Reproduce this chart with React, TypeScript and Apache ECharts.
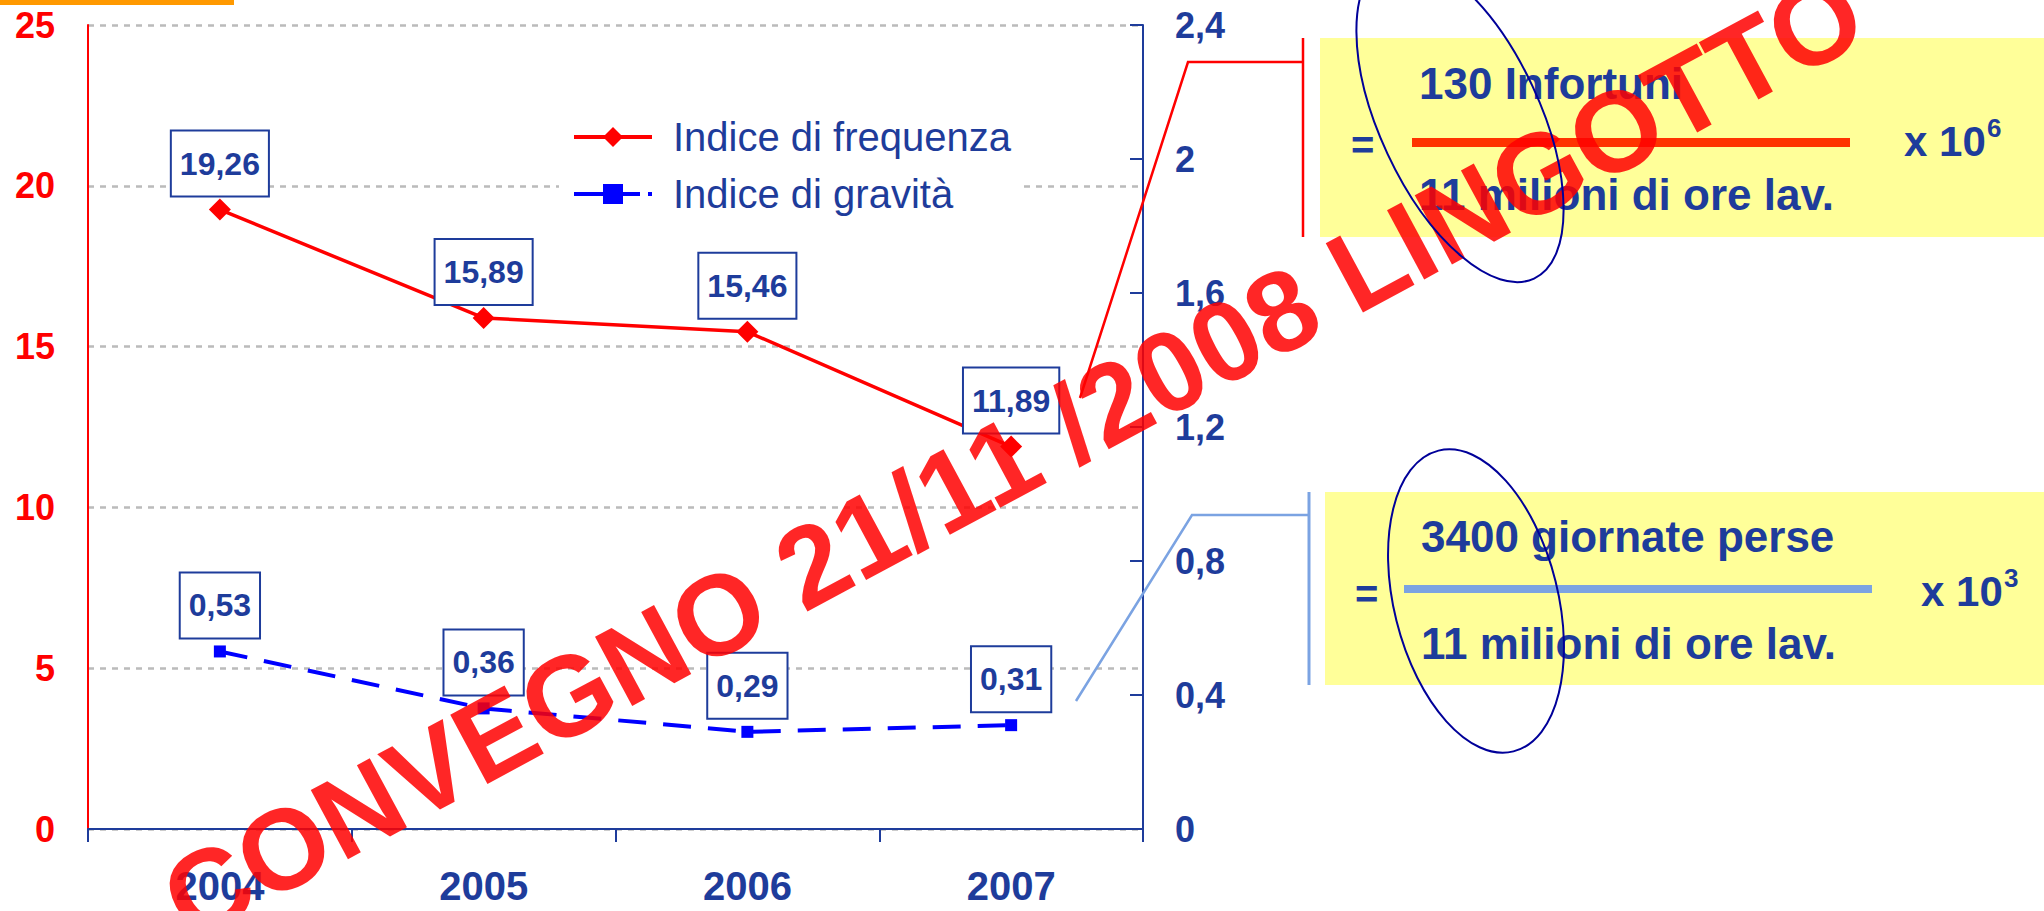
import React, { useEffect, useRef } from "react";
import * as echarts from "echarts";

const years = ["2004", "2005", "2006", "2007"];
const freqName = "Indice di frequenza";
const gravName = "Indice di gravità";
const freqValues = [19.26, 15.89, 15.46, 11.89];
const gravValues = [0.53, 0.36, 0.29, 0.31];
const leftTicks = { min: 0, max: 25, interval: 5 };
const rightTicks = { min: 0, max: 2.4, interval: 0.4 };
const formula1 = { num: "130 Infortuni", den: "11 milioni di ore lav.", exp: "6" };
const formula2 = { num: "3400 giornate perse", den: "11 milioni di ore lav.", exp: "3" };
const watermark = "CONVEGNO 21/11 /2008 LINGOTTO";

const BLUE = "#1E3C9B";
const FONT = "'Liberation Sans', Arial, sans-serif";

const fmt = (v: number) => v.toFixed(2).replace(".", ",");

export default function App() {
  const ref = useRef<HTMLDivElement>(null);
  useEffect(() => {
    if (!ref.current) return;
    const chart = echarts.init(ref.current, undefined, { renderer: "svg" });
    const label = (dist: number) => ({
      show: true,
      position: "top",
      distance: dist,
      formatter: (p: any) => fmt(p.value),
      color: BLUE,
      fontSize: 32,
      fontWeight: "bold",
      fontFamily: FONT,
      lineHeight: 32,
      backgroundColor: "#ffffff",
      borderColor: BLUE,
      borderWidth: 2,
      padding: [16, 8, 16, 8],
    });
    const txt = (text: string, x: number, y: number, size: number, extra: any = {}) => ({
      type: "text",
      x,
      y,
      z: 50,
      style: {
        text,
        fill: BLUE,
        fontSize: size,
        fontWeight: "bold",
        fontFamily: FONT,
        align: "left",
        verticalAlign: "middle",
        ...extra,
      },
    });
    chart.setOption({
      animation: false,
      backgroundColor: "#ffffff",
      grid: { left: 88, right: 901, top: 25, bottom: 82, containLabel: false },
      legend: {
        orient: "vertical",
        left: 559,
        top: 107,
        padding: [10, 9, 10, 13],
        itemGap: 17,
        itemWidth: 78,
        itemHeight: 25,
        backgroundColor: "#ffffff",
        data: [
          { name: freqName, lineStyle: { width: 4 } },
          { name: gravName, lineStyle: { width: 4, type: [29, 8] } },
        ],
        textStyle: {
          color: BLUE,
          fontSize: 40,
          fontFamily: FONT,
          lineHeight: 40,
          padding: [0, 0, 0, 16],
        },
      },
      xAxis: {
        type: "category",
        data: years,
        boundaryGap: true,
        axisLine: { lineStyle: { color: BLUE, width: 2 } },
        axisTick: { show: true, length: 13, lineStyle: { color: BLUE, width: 2 } },
        axisLabel: {
          color: BLUE,
          fontSize: 40,
          fontWeight: "bold",
          fontFamily: FONT,
          lineHeight: 32,
          margin: 41,
        },
        splitLine: { show: false },
      },
      yAxis: [
        {
          type: "value",
          position: "left",
          min: leftTicks.min,
          max: leftTicks.max,
          interval: leftTicks.interval,
          axisLine: { show: true, lineStyle: { color: "#FF0000", width: 2 } },
          axisTick: { show: false },
          axisLabel: { color: "#FF0000", fontSize: 36, fontWeight: "bold", fontFamily: FONT, margin: 33 },
          splitLine: { show: true, lineStyle: { color: "#BBBBBB", width: 2.5, type: [6, 6] } },
        },
        {
          type: "value",
          position: "right",
          min: rightTicks.min,
          max: rightTicks.max,
          interval: rightTicks.interval,
          axisLine: { show: true, lineStyle: { color: BLUE, width: 2 } },
          axisTick: { show: true, inside: true, length: 13, lineStyle: { color: BLUE, width: 2 } },
          axisLabel: {
            color: BLUE,
            fontSize: 36,
            fontWeight: "bold",
            fontFamily: FONT,
            margin: 32,
            formatter: (v: number) => String(+v.toFixed(1)).replace(".", ","),
          },
          splitLine: { show: false },
        },
      ],
      series: [
        {
          name: freqName,
          type: "line",
          yAxisIndex: 0,
          data: freqValues,
          symbol: "diamond",
          symbolSize: 22,
          itemStyle: { color: "#FF0000" },
          lineStyle: { color: "#FF0000", width: 3.5 },
          label: label(3),
          z: 3,
        },
        {
          name: gravName,
          type: "line",
          yAxisIndex: 1,
          data: gravValues,
          symbol: "rect",
          symbolSize: 12,
          itemStyle: { color: "#0000FF" },
          lineStyle: { color: "#0000FF", width: 4, type: [28, 17] },
          label: label(8),
          z: 3,
        },
      ],
      graphic: [
        { type: "rect", shape: { x: 0, y: 0, width: 234, height: 5 }, style: { fill: "#FF9900" }, z: 50 },
        // formula 1
        { type: "rect", shape: { x: 1320, y: 38, width: 724, height: 199 }, style: { fill: "#FFFF99" }, z: 40 },
        { type: "line", shape: { x1: 1303, y1: 38, x2: 1303, y2: 237 }, style: { stroke: "#FF0000", lineWidth: 2.5 }, z: 50 },
        {
          type: "polyline",
          shape: { points: [[1080, 398], [1188, 62], [1303, 62]] },
          style: { stroke: "#FF0000", lineWidth: 2.5, fill: "none" },
          z: 50,
        },
        txt("=", 1351, 145, 40),
        txt(formula1.num, 1419, 83, 44),
        { type: "rect", shape: { x: 1412, y: 138, width: 438, height: 9 }, style: { fill: "#FF3300" }, z: 50 },
        txt(formula1.den, 1419, 194, 44),
        txt("x 10", 1904, 141, 42),
        txt(formula1.exp, 1987, 128, 26),
        // formula 2
        { type: "rect", shape: { x: 1325, y: 492, width: 719, height: 193 }, style: { fill: "#FFFF99" }, z: 40 },
        { type: "line", shape: { x1: 1309, y1: 492, x2: 1309, y2: 685 }, style: { stroke: "#7BA3E2", lineWidth: 3 }, z: 50 },
        {
          type: "polyline",
          shape: { points: [[1076, 701], [1192, 515], [1309, 515]] },
          style: { stroke: "#7BA3E2", lineWidth: 2.5, fill: "none" },
          z: 50,
        },
        txt("=", 1355, 594, 40),
        txt(formula2.num, 1421, 536, 44),
        { type: "rect", shape: { x: 1404, y: 585, width: 468, height: 8 }, style: { fill: "#7BA3E2" }, z: 50 },
        txt(formula2.den, 1421, 643, 44),
        txt("x 10", 1921, 591, 42),
        txt(formula2.exp, 2004, 578, 26),
        // watermark
        {
          type: "text",
          x: 1013,
          y: 456,
          rotation: (28.3 * Math.PI) / 180,
          z: 100,
          style: {
            text: watermark,
            fill: "rgba(255,0,0,0.85)",
            fontSize: 114,
            fontWeight: "bold",
            fontFamily: FONT,
            align: "center",
            verticalAlign: "middle",
          },
        },
        // ellipses
        {
          type: "group",
          x: 1460,
          y: 120,
          rotation: (25 * Math.PI) / 180,
          z: 110,
          children: [
            {
              type: "ellipse",
              shape: { cx: 0, cy: 0, rx: 80, ry: 175 },
              style: { stroke: "#000099", lineWidth: 2, fill: "none" },
              z: 110,
            },
          ],
        },
        {
          type: "group",
          x: 1476,
          y: 601,
          rotation: (14 * Math.PI) / 180,
          z: 110,
          children: [
            {
              type: "ellipse",
              shape: { cx: 0, cy: 0, rx: 82, ry: 155 },
              style: { stroke: "#000099", lineWidth: 2, fill: "none" },
              z: 110,
            },
          ],
        },
      ],
    });
    return () => chart.dispose();
  }, []);
  return (
    <div
      ref={ref}
      style={{ position: "absolute", left: 0, top: 0, width: 2044, height: 911 }}
    />
  );
}
